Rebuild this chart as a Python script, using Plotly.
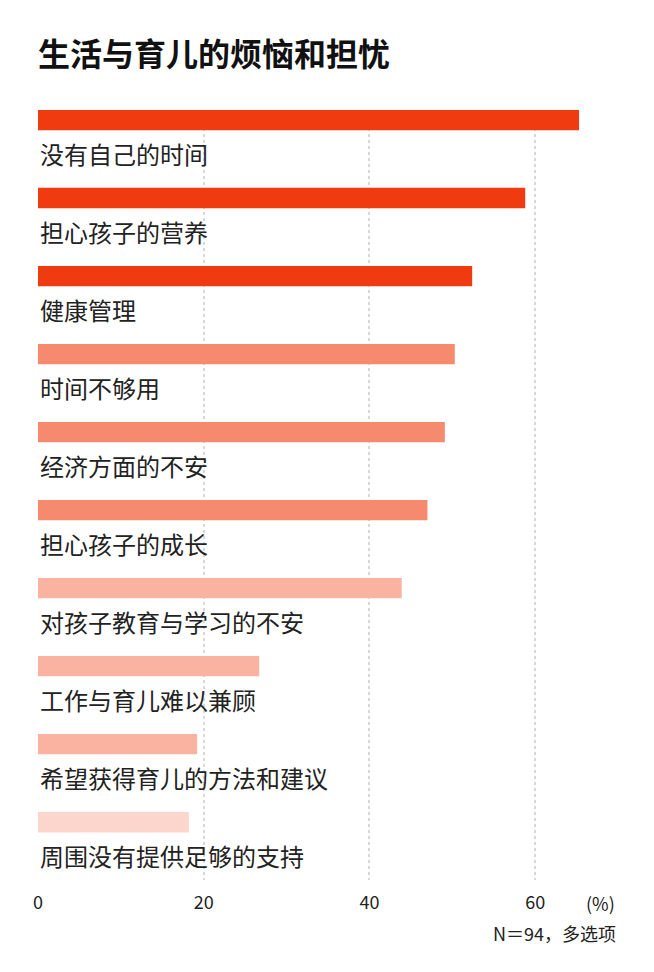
import plotly.graph_objects as go

categories = ["没有自己的时间", "担心孩子的营养", "健康管理", "时间不够用", "经济方面的不安",
              "担心孩子的成长", "对孩子教育与学习的不安", "工作与育儿难以兼顾",
              "希望获得育儿的方法和建议", "周围没有提供足够的支持"]
values = [65.3, 58.8, 52.4, 50.3, 49.1, 47.0, 43.9, 26.7, 19.2, 18.2]
colors = ["#ef3b0f"] * 3 + ["#f58a6e"] * 3 + ["#f9b3a0"] * 3 + ["#fcd6cc"]
tick_vals = [0, 20, 40, 60]

font_family = "Noto Sans CJK SC"
pos = list(range(len(categories)))

fig = go.Figure(go.Bar(
    x=values, y=pos, orientation="h",
    marker=dict(color=colors, line=dict(width=0)),
    width=0.26, hoverinfo="skip",
))

# category labels sit under each bar
for i, name in enumerate(categories):
    fig.add_annotation(x=0, y=i + 0.43, text=name, xanchor="left", yanchor="middle",
                       showarrow=False, font=dict(size=24, color="#222", family=font_family))

fig.add_annotation(xref="paper", yref="paper", x=0.969, y=-0.03, text="(%)",
                   showarrow=False, xanchor="center", yanchor="middle",
                   font=dict(size=18, color="#222", family=font_family))
fig.add_annotation(xref="paper", yref="paper", x=1.0, y=-0.069, text="N＝94，多选项",
                   showarrow=False, xanchor="right", yanchor="middle",
                   font=dict(size=18, color="#222", family=font_family))

# page adds an 8px body margin, so the figure is a bit smaller than the window
fig.update_layout(
    width=638, height=956,
    margin=dict(l=30, r=28, t=102, b=84),
    paper_bgcolor="white", plot_bgcolor="white",
    showlegend=False,
    font=dict(family=font_family, color="#222"),
    title=dict(text="<b>生活与育儿的烦恼和担忧</b>", x=30 / 638, xanchor="left",
               y=1 - 47 / 956, yanchor="middle", yref="container",
               font=dict(size=32, color="#111", family=font_family)),
    xaxis=dict(range=[0, 70], tickvals=tick_vals, showgrid=True, gridcolor="#d8d8d8",
               griddash="dot", gridwidth=1.5, zeroline=False, showline=False,
               ticks="", ticklabelstandoff=10, tickfont=dict(size=18, color="#222")),
    yaxis=dict(range=[9.74, -0.128], showticklabels=False, showgrid=False,
               zeroline=False, showline=False),
)

fig.write_html("out.html")
